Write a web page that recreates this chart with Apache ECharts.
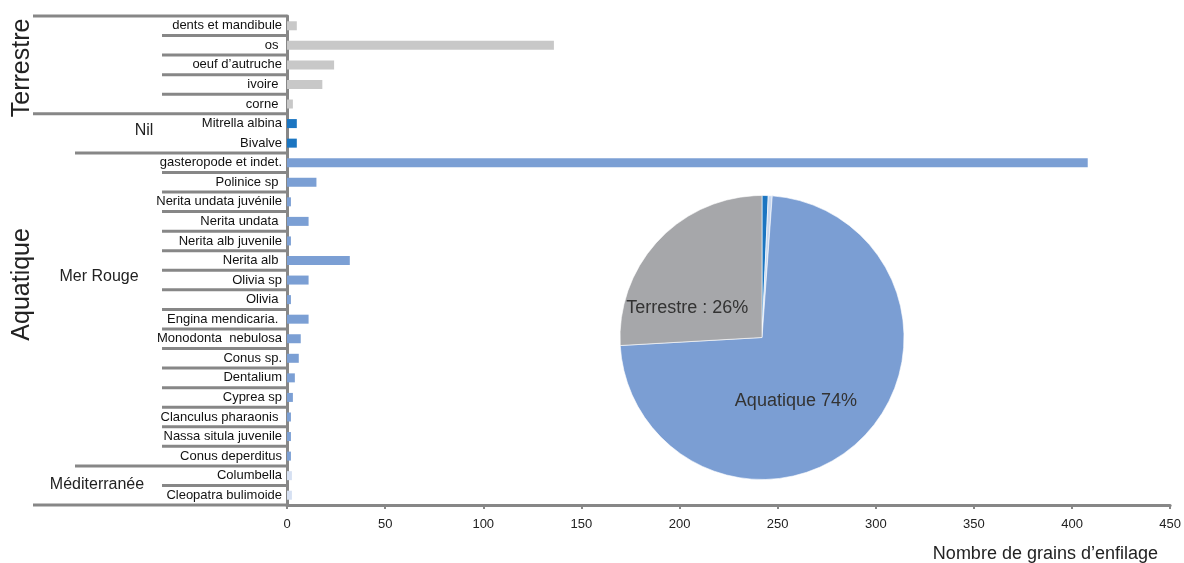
<!DOCTYPE html>
<html><head><meta charset="utf-8">
<script src="https://cdn.jsdelivr.net/npm/echarts@6/dist/echarts.min.js"></script>
<style>html,body{margin:0;padding:0;background:#fff}#c{width:1184px;height:563px}</style>
</head><body><div id="c"></div>
<script>
// ---- data ----
const categories = [
  'dents et mandibule', 'os ', 'oeuf d\u2019autruche', 'ivoire ', 'corne ',
  'Mitrella albina', 'Bivalve',
  'gasteropode et indet.', 'Polinice sp ', 'Nerita undata juvénile', 'Nerita undata ',
  'Nerita alb juvenile', 'Nerita alb ', 'Olivia sp', 'Olivia ', 'Engina mendicaria. ',
  'Monodonta  nebulosa', 'Conus sp.', 'Dentalium', 'Cyprea sp', 'Clanculus pharaonis ',
  'Nassa situla juvenile', 'Conus deperditus',
  'Columbella', 'Cleopatra bulimoide'
];
const values = [5, 136, 24, 18, 3, 5, 5, 408, 15, 2, 11, 2, 32, 11, 2, 11, 7, 6, 4, 3, 2, 2, 2, 2.5, 2.5];
const regions = [
  'Terrestre', 'Terrestre', 'Terrestre', 'Terrestre', 'Terrestre',
  'Nil', 'Nil',
  'Mer Rouge', 'Mer Rouge', 'Mer Rouge', 'Mer Rouge', 'Mer Rouge', 'Mer Rouge', 'Mer Rouge', 'Mer Rouge',
  'Mer Rouge', 'Mer Rouge', 'Mer Rouge', 'Mer Rouge', 'Mer Rouge', 'Mer Rouge', 'Mer Rouge', 'Mer Rouge',
  'Méditerranée', 'Méditerranée'
];
const xMin = 0, xMax = 450, xInterval = 50;
const xTitle = 'Nombre de grains d\u2019enfilage';
const pieNames = ['Nil', 'Méditerranée', 'Mer Rouge', 'Terrestre'];
const pieValues = [0.7, 0.45, 72.95, 25.9];
const pieLabels = ['', '', 'Aquatique 74%', 'Terrestre : 26%'];

// ---- style ----
const barColors = { 'Terrestre': '#c8c8c8', 'Nil': '#1b75c1', 'Mer Rouge': '#7b9fd4', 'Méditerranée': '#d6e0f2' };
const pieColors = { 'Nil': '#1b75c1', 'Méditerranée': '#c9d8ef', 'Mer Rouge': '#7b9ed3', 'Terrestre': '#a6a7aa' };
const lineColor = '#878787';
const FONT = 'Liberation Sans, Arial, sans-serif';

const chart = echarts.init(document.getElementById('c'), null, { renderer: 'canvas' });

chart.setOption({
  animation: false,
  backgroundColor: '#fff',
  grid: { left: 287, right: 11, top: 16, bottom: 58, containLabel: false },
  xAxis: {
    type: 'value', min: xMin, max: xMax, interval: xInterval,
    axisLine: { show: true, lineStyle: { color: lineColor, width: 3 } },
    axisTick: { show: true, length: 4, lineStyle: { color: lineColor, width: 2 } },
    axisLabel: { fontFamily: FONT, fontSize: 13, color: '#222', margin: 13 },
    splitLine: { show: false }
  },
  yAxis: {
    type: 'category', inverse: true, data: categories,
    axisLine: { show: true, lineStyle: { color: lineColor, width: 3 } },
    axisTick: { show: false },
    axisLabel: { fontFamily: FONT, fontSize: 13, color: '#111', margin: 5 },
    splitLine: { show: false }
  },
  series: [
    {
      type: 'bar', barWidth: 9,
      data: values.map((v, i) => ({ value: v, itemStyle: { color: barColors[regions[i]] } })),
      z: 2
    },
    {
      type: 'pie', center: [762, 337.5], radius: 142, startAngle: 90, clockwise: true,
      data: pieValues.map((v, i) => ({ name: pieNames[i], value: v, itemStyle: { color: pieColors[pieNames[i]] } })),
      itemStyle: { borderColor: '#ffffff', borderWidth: 0.6 },
      label: {
        show: true, position: 'inside', fontFamily: FONT, fontSize: 18, color: '#333',
        formatter: p => pieLabels[p.dataIndex]
      },
      labelLayout: function (p) {
        if (p.dataIndex === 3) return { dx: -10.5, dy: 10.5 };
        if (p.dataIndex === 2) return { dx: -9, dy: 5.5 };
        return {};
      },
      emphasis: { disabled: true },
      z: 3
    }
  ]
});

// ---- decorations derived from the axes ----
function py(i) { return chart.convertToPixel({ yAxisIndex: 0 }, categories[i]); }
const band = py(1) - py(0);
const axisX = chart.convertToPixel({ xAxisIndex: 0 }, 0);
const axisY = py(categories.length - 1) + band / 2;
const superGroup = r => (r === 'Terrestre' ? 'Terrestre' : 'Aquatique');
const g = [];
function hline(y, x1) {
  g.push({ type: 'line', shape: { x1: x1, y1: y, x2: axisX, y2: y }, style: { stroke: lineColor, lineWidth: 3 }, z: 5 });
}
hline(py(0) - band / 2, 33);
for (let i = 1; i < categories.length; i++) {
  const y = (py(i - 1) + py(i)) / 2;
  if (regions[i - 1] !== regions[i]) {
    hline(y, superGroup(regions[i - 1]) !== superGroup(regions[i]) ? 33 : 75);
  } else if (regions[i] !== 'Nil') {
    hline(y, 162);
  }
}
hline(axisY, 33);

function idxMid(name) {
  const idx = regions.map((r, i) => (r === name ? i : -1)).filter(i => i >= 0);
  return (py(idx[0]) + py(idx[idx.length - 1])) / 2;
}
function txt(s, x, y, size, rot, align) {
  g.push({ type: 'text', x: x, y: y, rotation: rot || 0, z: 6,
    style: { text: s, fontFamily: FONT, fontSize: size, fill: '#222', align: align || 'center', verticalAlign: 'middle' } });
}
txt('Terrestre', 22, idxMid('Terrestre') + 3, 25, Math.PI / 2);
const aqIdx = regions.map((r, i) => (r !== 'Terrestre' ? i : -1)).filter(i => i >= 0);
txt('Aquatique', 22, (py(aqIdx[0]) + py(aqIdx[aqIdx.length - 1])) / 2 - 25, 25, Math.PI / 2);
txt('Nil', 144, idxMid('Nil') - 3, 16);
txt('Mer Rouge', 99, py(categories.indexOf('Olivia sp')) - 3, 16);
txt('Méditerranée', 97, idxMid('Méditerranée') - 1, 16);
txt(xTitle, 1158, axisY + 49, 18, 0, 'right');

chart.setOption({ graphic: g });
</script>
</body></html>
